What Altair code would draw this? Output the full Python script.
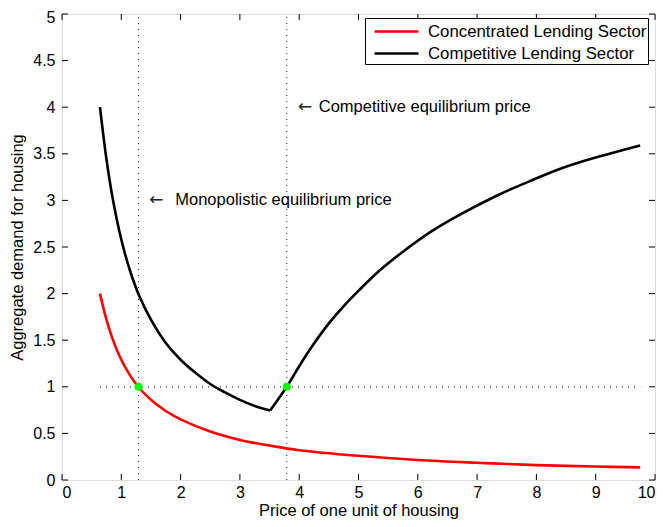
import altair as alt
import pandas as pd

CONC = "Concentrated Lending Sector"
COMP = "Competitive Lending Sector"

# Concentrated lending sector (red)
red_x = [0.64, 0.75, 0.85, 1.0, 1.15, 1.3, 1.5, 1.75, 2.0, 2.5, 3.0, 3.5, 4.0, 5.0, 6.0, 7.0, 8.0, 9.0, 9.75]
red_y = [2.00, 1.72, 1.52, 1.29, 1.12, 0.99, 0.86, 0.74, 0.65, 0.52, 0.43, 0.37, 0.32, 0.26, 0.215, 0.185, 0.16, 0.145, 0.135]

# Competitive lending sector (black), falling branch
blk_left_x = [0.64, 0.75, 0.85, 1.0, 1.15, 1.3, 1.5, 1.75, 2.0, 2.25, 2.5, 2.75, 3.0, 3.25, 3.51]
blk_left_y = [4.00, 3.44, 3.04, 2.58, 2.24, 1.98, 1.72, 1.47, 1.29, 1.15, 1.03, 0.94, 0.86, 0.795, 0.745]

# Competitive lending sector (black), rising branch
blk_right_x = [3.51, 3.79, 4.0, 4.18, 4.5, 4.77, 5.0, 5.36, 5.75, 6.21, 6.75, 7.33, 7.9, 8.45, 9.0, 9.4, 9.75]
blk_right_y = [0.745, 1.00, 1.22, 1.40, 1.68, 1.88, 2.03, 2.25, 2.45, 2.66, 2.86, 3.05, 3.21, 3.35, 3.46, 3.53, 3.59]

# Equilibrium prices and reference level
eq_x = [1.29, 3.79]
eq_y = [1.0, 1.0]
hline_x = [0.64, 9.75]
hline_y = 1.0

# Annotations: arrow glyph and label text
ann_arrow_x = [3.98, 1.47]
ann_text_x = [4.33, 1.91]
ann_y = [4.0, 3.0]
ann_text = ["Competitive equilibrium price", "Monopolistic equilibrium price"]

x_ticks = list(range(0, 11))
y_ticks = [0, 0.5, 1, 1.5, 2, 2.5, 3, 3.5, 4, 4.5, 5]

rows = []
for x, y in zip(red_x, red_y):
    rows.append({"series": CONC, "branch": "red", "x": x, "y": y})
for x, y in zip(blk_left_x, blk_left_y):
    rows.append({"series": COMP, "branch": "left", "x": x, "y": y})
for x, y in zip(blk_right_x, blk_right_y):
    rows.append({"series": COMP, "branch": "right", "x": x, "y": y})
curves = pd.DataFrame(rows)

W, H = 593, 466
FONT = "Liberation Sans"
xs = alt.Scale(domain=[0, 10], nice=False, zero=False)
ys = alt.Scale(domain=[0, 5], nice=False, zero=False)

xaxis = alt.Axis(values=x_ticks, title="Price of one unit of housing", grid=False,
                 tickSize=0, domain=False, labelPadding=4, titlePadding=2,
                 labelFontSize=16, titleFontSize=16.5, titleFontWeight="normal",
                 labelColor="black", titleColor="black", labelFont=FONT, titleFont=FONT,
                 format="~g")
yaxis = alt.Axis(values=y_ticks, title="Aggregate demand for housing", grid=False,
                 tickSize=0, domain=False, labelPadding=7, titlePadding=7,
                 labelFontSize=16, titleFontSize=16.5, titleFontWeight="normal",
                 labelColor="black", titleColor="black", labelFont=FONT, titleFont=FONT,
                 labelOffset={"condition": {"test": "datum.value == 5", "value": 3}, "value": 0},
                 format="~g")

vlines = alt.Chart(pd.DataFrame({"x": eq_x, "y0": [0, 0], "y1": [5, 5]})).mark_rule(
    color="#222", strokeWidth=1, strokeDash=[1, 5]
).encode(x=alt.X("x:Q", scale=xs, axis=xaxis), y=alt.Y("y0:Q", scale=ys, axis=yaxis), y2="y1:Q")

hline = alt.Chart(pd.DataFrame({"x0": [hline_x[0]], "x1": [hline_x[1]], "y": [hline_y]})).mark_rule(
    color="#222", strokeWidth=1.2, strokeDash=[1, 5]
).encode(x=alt.X("x0:Q", scale=xs), x2="x1:Q", y=alt.Y("y:Q", scale=ys))

lines = alt.Chart(curves).mark_line(strokeWidth=2.6, interpolate="catmull-rom").encode(
    x=alt.X("x:Q", scale=xs),
    y=alt.Y("y:Q", scale=ys),
    detail="branch:N",
    color=alt.Color("series:N",
                    scale=alt.Scale(domain=[CONC, COMP], range=["#ff0000", "#000000"]),
                    legend=alt.Legend(title=None, orient="none", legendX=303, legendY=4,
                                      direction="vertical",
                                      strokeColor="black", fillColor="white", padding=1,
                                      symbolOffset=7,
                                      symbolType="M-1,0H3", symbolSize=484, symbolStrokeWidth=2.6,
                                      labelFontSize=16.8, labelFont=FONT, labelColor="black",
                                      labelOffset=30, rowPadding=0, cornerRadius=0,
                                      labelLimit=400)),
)

pts = alt.Chart(pd.DataFrame({"x": eq_x, "y": eq_y})).mark_point(
    filled=True, shape="circle", size=64, color="#00ff00", opacity=1
).encode(x=alt.X("x:Q", scale=xs), y=alt.Y("y:Q", scale=ys))

arrows = alt.Chart(pd.DataFrame({"x": ann_arrow_x, "y": ann_y, "t": ["\u2190", "\u2190"]})).mark_text(
    align="left", baseline="middle", font="DejaVu Sans", fontSize=17, color="#222"
).encode(x=alt.X("x:Q", scale=xs), y=alt.Y("y:Q", scale=ys), text="t:N")

texts = alt.Chart(pd.DataFrame({"x": ann_text_x, "y": ann_y, "t": ann_text})).mark_text(
    align="left", baseline="middle", font=FONT, fontSize=16.5, color="black"
).encode(x=alt.X("x:Q", scale=xs), y=alt.Y("y:Q", scale=ys), text="t:N")

# Inward tick marks on all four sides of the box
TL = 6
xt = pd.DataFrame({"x": x_ticks})
yt = pd.DataFrame({"y": y_ticks})
tick_style = dict(color="black", strokeWidth=1)
xt_bottom = alt.Chart(xt).mark_rule(**tick_style).encode(
    x=alt.X("x:Q", scale=xs), y=alt.value(H), y2=alt.value(H - TL))
xt_top = alt.Chart(xt).mark_rule(**tick_style).encode(
    x=alt.X("x:Q", scale=xs), y=alt.value(0), y2=alt.value(TL))
yt_left = alt.Chart(yt).mark_rule(**tick_style).encode(
    y=alt.Y("y:Q", scale=ys), x=alt.value(0), x2=alt.value(TL))
yt_right = alt.Chart(yt).mark_rule(**tick_style).encode(
    y=alt.Y("y:Q", scale=ys), x=alt.value(W), x2=alt.value(W - TL))

chart = alt.layer(
    vlines, hline, lines, pts, arrows, texts, xt_bottom, xt_top, yt_left, yt_right
).properties(
    width=W, height=H,
    autosize=alt.AutoSizeParams(type="none"),
    padding={"left": 54, "top": 6, "right": 2, "bottom": 39},
).configure_view(
    stroke="black", strokeWidth=1
).configure(background="white")

chart.save("out.html", embed_options={"renderer": "svg", "actions": False})
